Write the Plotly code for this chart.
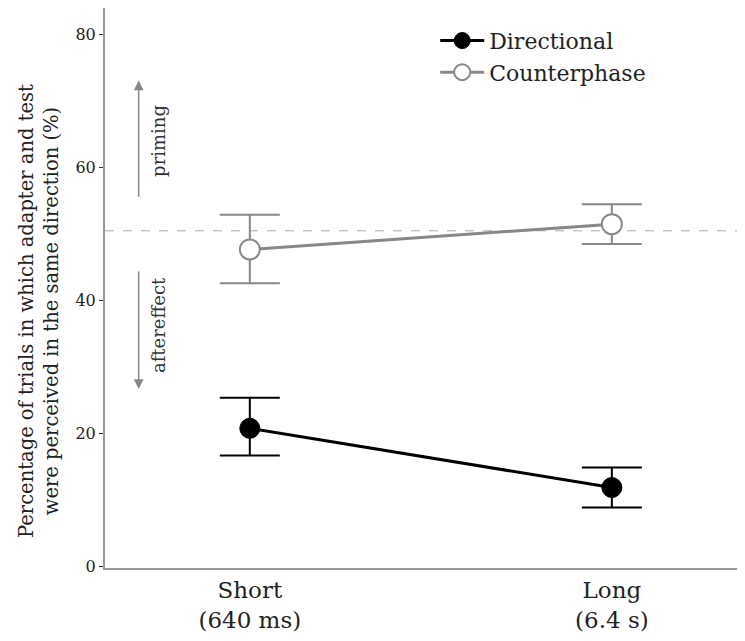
import plotly.graph_objects as go

categories = ["Short<br>(640 ms)", "Long<br>(6.4 s)"]
directional = [20.8, 11.9]
directional_err_plus = [4.6, 3.0]
directional_err_minus = [4.1, 3.0]
counterphase = [47.7, 51.5]
counterphase_err_plus = [5.2, 3.0]
counterphase_err_minus = [5.1, 3.0]
chance_level = 50.5
y_ticks = [0, 20, 40, 60, 80]
y_title = "Percentage of trials in which adapter and test<br>were perceived in the same direction (%)"

FONT = "DejaVu Serif"
xpos = [0, 1]

fig = go.Figure()

fig.add_trace(go.Scatter(
    x=xpos, y=directional, name="Directional", mode="lines+markers",
    line=dict(color="black", width=3),
    marker=dict(size=20, color="black", line=dict(color="black", width=1)),
    error_y=dict(type="data", symmetric=False, array=directional_err_plus,
                 arrayminus=directional_err_minus, color="black", thickness=2, width=30),
))
fig.add_trace(go.Scatter(
    x=xpos, y=counterphase, name="Counterphase", mode="lines+markers",
    line=dict(color="#888888", width=3),
    marker=dict(size=20, color="white", symbol="circle",
                line=dict(color="#888888", width=2)),
    error_y=dict(type="data", symmetric=False, array=counterphase_err_plus,
                 arrayminus=counterphase_err_minus, color="#888888", thickness=2, width=30),
))

fig.add_shape(type="line", xref="paper", yref="y", x0=0, x1=1, y0=chance_level, y1=chance_level,
              line=dict(color="#aaaaaa", width=1, dash="dash"), layer="below")

arrow_x = -0.307
fig.add_annotation(x=arrow_x, y=73.1, ax=arrow_x, ay=55.4, xref="x", yref="y", axref="x", ayref="y",
                   showarrow=True, arrowhead=2, arrowsize=1.3, arrowwidth=1.5, arrowcolor="#888888", text="")
fig.add_annotation(x=arrow_x, y=26.7, ax=arrow_x, ay=44.6, xref="x", yref="y", axref="x", ayref="y",
                   showarrow=True, arrowhead=2, arrowsize=1.3, arrowwidth=1.5, arrowcolor="#888888", text="")
fig.add_annotation(x=-0.254, y=64.0, xref="x", yref="y", text="priming", textangle=-90,
                   showarrow=False, font=dict(family=FONT, size=18, color="#333333"))
fig.add_annotation(x=-0.254, y=36.3, xref="x", yref="y", text="aftereffect", textangle=-90,
                   showarrow=False, font=dict(family=FONT, size=18, color="#333333"))

# y-axis title, placed as in the reference (slightly below the plot centre)
fig.add_annotation(x=-0.105, y=38.5, xref="paper", yref="y", text=y_title, textangle=-90,
                   showarrow=False, xanchor="center", yanchor="middle",
                   font=dict(family=FONT, size=19.5, color="#222222"))

fig.update_layout(
    width=745, height=641,
    margin=dict(l=97, r=13, t=0, b=81),
    plot_bgcolor="white", paper_bgcolor="white",
    font=dict(family=FONT, size=18, color="#222222"),
    showlegend=True,
    legend=dict(x=0.52, y=0.979, xanchor="left", yanchor="top", bgcolor="rgba(0,0,0,0)",
                font=dict(family=FONT, size=22), itemwidth=44, tracegroupgap=0),
    xaxis=dict(range=[-0.4, 1.354], tickmode="array", tickvals=xpos, ticktext=categories,
               showgrid=False, zeroline=False, showline=True, linecolor="#999999", linewidth=2,
               ticks="", tickfont=dict(family=FONT, size=23, color="#222222")),
    yaxis=dict(range=[-0.2, 84], tickmode="array", tickvals=y_ticks,
               ticktext=[str(v) for v in y_ticks],
               showgrid=False, zeroline=False, showline=True, linecolor="#999999", linewidth=2,
               ticks="outside", ticklen=4, tickcolor="#333333",
               tickfont=dict(family=FONT, size=16, color="#222222")),
)

fig.write_html("out.html")
